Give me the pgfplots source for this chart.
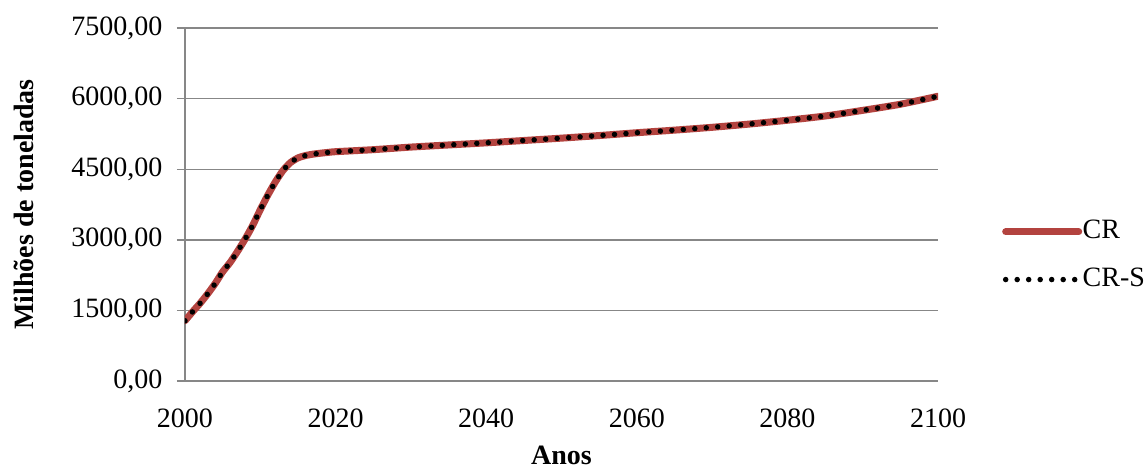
\documentclass[border=0pt]{standalone}
\usepackage{fontspec}
\setmainfont{Liberation Serif}
\usepackage{pgfplots}
\usepackage{pgfplotstable}
\pgfplotsset{compat=1.18}
\definecolor{crred}{HTML}{B3433F}
\definecolor{gridgray}{HTML}{878787}
\pgfplotstableread{
year val
2000 1280
2001 1470
2002 1650
2003 1850
2004 2070
2005 2320
2006 2520
2007 2760
2008 3020
2009 3310
2010 3640
2011 3950
2012 4230
2013 4470
2014 4640
2015 4740
2016 4790
2017 4820
2018 4840
2019 4857
2020 4872
2025 4915
2030 4970
2035 5015
2040 5060
2045 5110
2050 5160
2055 5215
2060 5275
2065 5330
2070 5390
2075 5460
2080 5540
2085 5630
2090 5750
2095 5880
2100 6050
}\crdata
\begin{document}
\fontsize{28}{33}\selectfont
\begin{tikzpicture}
\useasboundingbox (-185pt,-87pt) rectangle (962pt,381pt);
\begin{axis}[
  at={(0,0)}, anchor=south west,
  scale only axis, width=753pt, height=353pt,
  xmin=2000, xmax=2100, ymin=0, ymax=7500,
  xtick={2000,2020,...,2100}, ytick={0,1500,...,7500},
  axis x line*=bottom, axis y line*=left,
  axis line style={gridgray, line width=1.4pt, -},
  ymajorgrids, grid style={gridgray, line width=1.4pt},
  ytick style={gridgray, line width=1.4pt},
  xtick style={draw=none},
  tick align=outside, major tick length=8pt,
  ticklabel style={font=\fontsize{28}{33}\selectfont},
  yticklabel style={xshift=-5pt, /pgf/number format/.cd, fixed, fixed zerofill, precision=2, use comma, 1000 sep={}, assume math mode=true},
  xticklabel style={yshift=-10pt, /pgf/number format/.cd, 1000 sep={}, assume math mode=true},
  xlabel={\textbf{Anos}}, ylabel={\textbf{Milhões de toneladas}},
  label style={font=\fontsize{28}{33}\selectfont},
  xlabel style={at={(axis description cs:0.5,-0.2096)}, anchor=center},
  ylabel style={at={(axis description cs:-0.2138,0.5)}, anchor=center},
  legend style={at={(1.081,0.355)}, anchor=west, draw=none, fill=none,
    font=\fontsize{28}{33}\selectfont, row sep=24pt, column sep=0pt,
    nodes={inner sep=0.5pt}},
  legend cell align=left,
  legend image code/.code={\draw[#1] (0pt,0pt) -- (73pt,0pt);},
]
\addplot[crred, line width=7pt, smooth, tension=0.4, line cap=round] table[x=year,y=val]{\crdata};
\addlegendentry{CR}
\addplot[black, line width=5.5pt, smooth, tension=0.4, line cap=round, dash pattern=on 0pt off 11.5pt] table[x=year,y=val]{\crdata};
\addlegendentry{CR-S}
\end{axis}
\end{tikzpicture}
\end{document}
